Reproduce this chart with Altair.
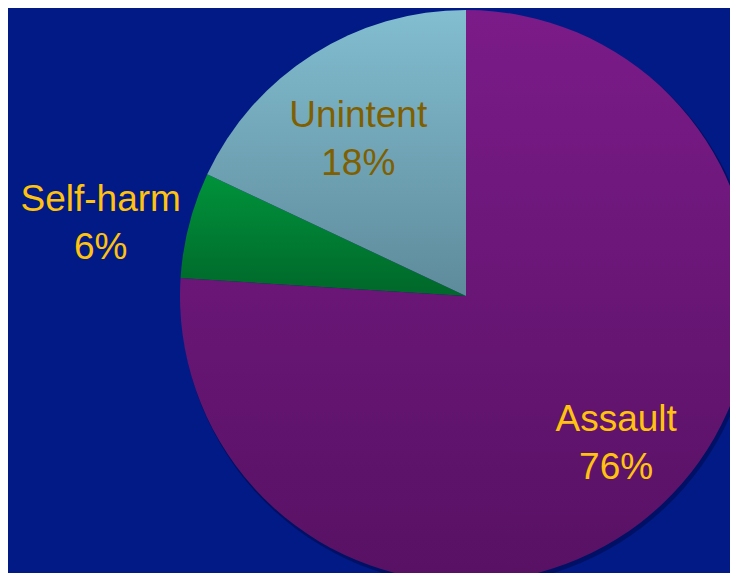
import math
import altair as alt
import pandas as pd

# ---- data ----
categories = ["Assault", "Self-harm", "Unintent"]
shares = [76, 6, 18]
order_idx = [0, 1, 2]

df = pd.DataFrame({"cat": categories, "share": shares, "idx": order_idx})

W, H = 722, 565
CX, CY = 458, 288
R = 286
theta_scale = alt.Scale(domain=[0, 100], range=[0, 2 * math.pi])

fills = {
    "Assault": ("#7b1b89", "#571163"),
    "Self-harm": ("#00933b", "#00672a"),
    "Unintent": ("#82bdd0", "#5e8b9b"),
}
label_style = {
    # radius, dx, dy, color
    "Assault": (212, 5, -31, "#ffc20e"),
    "Self-harm": (372, -5, -3, "#ffc20e"),
    "Unintent": (188, -7, -21, "#7f5f00"),
}


def grad(top, bottom):
    return alt.LinearGradient(
        gradient="linear",
        stops=[alt.GradientStop(color=top, offset=0), alt.GradientStop(color=bottom, offset=1)],
        x1=0, x2=0, y1=0, y2=1,
    )


def stacked():
    return (
        alt.Chart(df)
        .transform_stack(stack="share", groupby=[], as_=["t0", "t1"],
                         sort=[alt.SortField("idx", order="ascending")])
        .transform_calculate(mid="(datum.t0 + datum.t1) / 2",
                             label="datum.cat + '|' + datum.share + '%'")
    )


layers = []
# soft shadow around the pie
layers.append(
    stacked().mark_arc(radius=R + 1, fill="#000a4a", opacity=0.55).encode(
        theta=alt.Theta("t0:Q", scale=theta_scale, stack=None),
        theta2="t1:Q",
        x=alt.value(CX + 2),
        y=alt.value(CY + 3),
    )
)
for c in categories:
    top, bottom = fills[c]
    layers.append(
        stacked()
        .transform_filter(alt.datum.cat == c)
        .mark_arc(radius=R, fill=grad(top, bottom), strokeWidth=0)
        .encode(
            theta=alt.Theta("t0:Q", scale=theta_scale, stack=None),
            theta2="t1:Q",
            x=alt.value(CX),
            y=alt.value(CY),
        )
    )
for c in categories:
    r, dx, dy, col = label_style[c]
    layers.append(
        stacked()
        .transform_filter(alt.datum.cat == c)
        .mark_text(radius=r, dx=dx, dy=dy, color=col, font="Liberation Sans",
                   fontSize=37, lineBreak="|", lineHeight=48,
                   align="center", baseline="middle")
        .encode(
            theta=alt.Theta("mid:Q", scale=theta_scale, stack=None),
            x=alt.value(CX),
            y=alt.value(CY),
            text="label:N",
        )
    )

chart = (
    alt.layer(*layers)
    .properties(width=W, height=H, padding=0, autosize="none", background="#021a85")
    .configure_view(stroke=None)
)

chart.save("out.html", embed_options={"renderer": "svg", "actions": False})
